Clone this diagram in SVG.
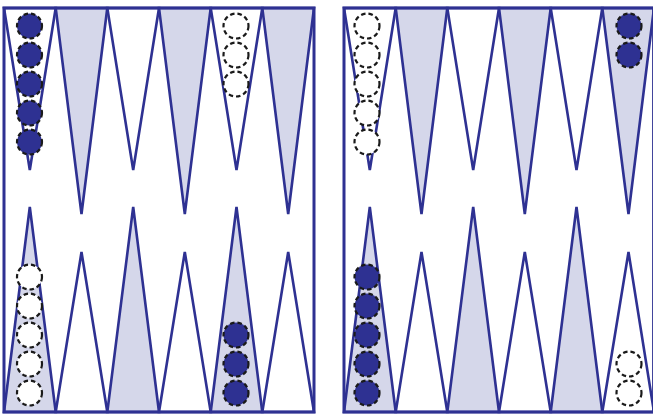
<svg xmlns="http://www.w3.org/2000/svg" width="653" height="414" viewBox="0 0 653 414">
<defs>
<style>
.pt{stroke:#2e3192;stroke-width:2.6;stroke-linejoin:miter}
.w{fill:#ffffff}
.s{fill:#d5d7ea}
.frame{fill:none;stroke:#2e3192;stroke-width:3}
.ck{stroke:#1a1a1a;stroke-width:2.2;stroke-dasharray:4.5 3}
.b{fill:#2e3192}
.wh{fill:#ffffff}
</style>
</defs>
<rect x="0" y="0" width="653" height="414" fill="#ffffff"/>
<g id="board-left">
<polygon class="pt w" points="4,8 55.7,8 29.8,170"/>
<polygon class="pt s" points="55.7,8 107.3,8 81.5,214"/>
<polygon class="pt w" points="107.3,8 159,8 133.2,170"/>
<polygon class="pt s" points="159,8 210.7,8 184.8,214"/>
<polygon class="pt w" points="210.7,8 262.3,8 236.5,170"/>
<polygon class="pt s" points="262.3,8 314,8 288.2,214"/>
<polygon class="pt s" points="4,412 55.7,412 29.8,207"/>
<polygon class="pt w" points="55.7,412 107.3,412 81.5,252"/>
<polygon class="pt s" points="107.3,412 159,412 133.2,207"/>
<polygon class="pt w" points="159,412 210.7,412 184.8,252"/>
<polygon class="pt s" points="210.7,412 262.3,412 236.5,207"/>
<polygon class="pt w" points="262.3,412 314,412 288.2,252"/>
<rect class="frame" x="4" y="8" width="310" height="404"/>
</g>
<g id="board-right">
<polygon class="pt w" points="344,8 395.7,8 369.8,170"/>
<polygon class="pt s" points="395.7,8 447.3,8 421.5,214"/>
<polygon class="pt w" points="447.3,8 499,8 473.2,170"/>
<polygon class="pt s" points="499,8 550.7,8 524.8,214"/>
<polygon class="pt w" points="550.7,8 602.3,8 576.5,170"/>
<polygon class="pt s" points="602.3,8 654,8 628.5,214"/>
<polygon class="pt s" points="344,412 395.7,412 369.8,207"/>
<polygon class="pt w" points="395.7,412 447.3,412 421.5,252"/>
<polygon class="pt s" points="447.3,412 499,412 473.2,207"/>
<polygon class="pt w" points="499,412 550.7,412 524.8,252"/>
<polygon class="pt s" points="550.7,412 602.3,412 576.5,207"/>
<polygon class="pt w" points="602.3,412 654,412 628.5,252"/>
<rect class="frame" x="344" y="8" width="309.6" height="404"/>
</g>
<g id="checkers-top-left">
<circle class="ck b" cx="29.5" cy="26" r="12.5"/>
<circle class="ck b" cx="29.5" cy="55" r="12.5"/>
<circle class="ck b" cx="29.5" cy="84" r="12.5"/>
<circle class="ck b" cx="29.5" cy="113" r="12.5"/>
<circle class="ck b" cx="29.5" cy="142" r="12.5"/>
<circle class="ck wh" cx="236" cy="26" r="12.5"/>
<circle class="ck wh" cx="236" cy="55" r="12.5"/>
<circle class="ck wh" cx="236" cy="84" r="12.5"/>
</g>
<g id="checkers-top-right">
<circle class="ck wh" cx="367" cy="26" r="12.5"/>
<circle class="ck wh" cx="367" cy="55" r="12.5"/>
<circle class="ck wh" cx="367" cy="84" r="12.5"/>
<circle class="ck wh" cx="367" cy="113" r="12.5"/>
<circle class="ck wh" cx="367" cy="142" r="12.5"/>
<circle class="ck b" cx="629" cy="26" r="12.5"/>
<circle class="ck b" cx="629" cy="55" r="12.5"/>
</g>
<g id="checkers-bottom-left">
<circle class="ck wh" cx="29.5" cy="277" r="12.5"/>
<circle class="ck wh" cx="29.5" cy="306" r="12.5"/>
<circle class="ck wh" cx="29.5" cy="335" r="12.5"/>
<circle class="ck wh" cx="29.5" cy="364" r="12.5"/>
<circle class="ck wh" cx="29.5" cy="393" r="12.5"/>
<circle class="ck b" cx="236" cy="335" r="12.5"/>
<circle class="ck b" cx="236" cy="364" r="12.5"/>
<circle class="ck b" cx="236" cy="393" r="12.5"/>
</g>
<g id="checkers-bottom-right">
<circle class="ck b" cx="367" cy="277" r="12.5"/>
<circle class="ck b" cx="367" cy="306" r="12.5"/>
<circle class="ck b" cx="367" cy="335" r="12.5"/>
<circle class="ck b" cx="367" cy="364" r="12.5"/>
<circle class="ck b" cx="367" cy="393" r="12.5"/>
<circle class="ck wh" cx="629" cy="364" r="12.5"/>
<circle class="ck wh" cx="629" cy="393" r="12.5"/>
</g>
</svg>
